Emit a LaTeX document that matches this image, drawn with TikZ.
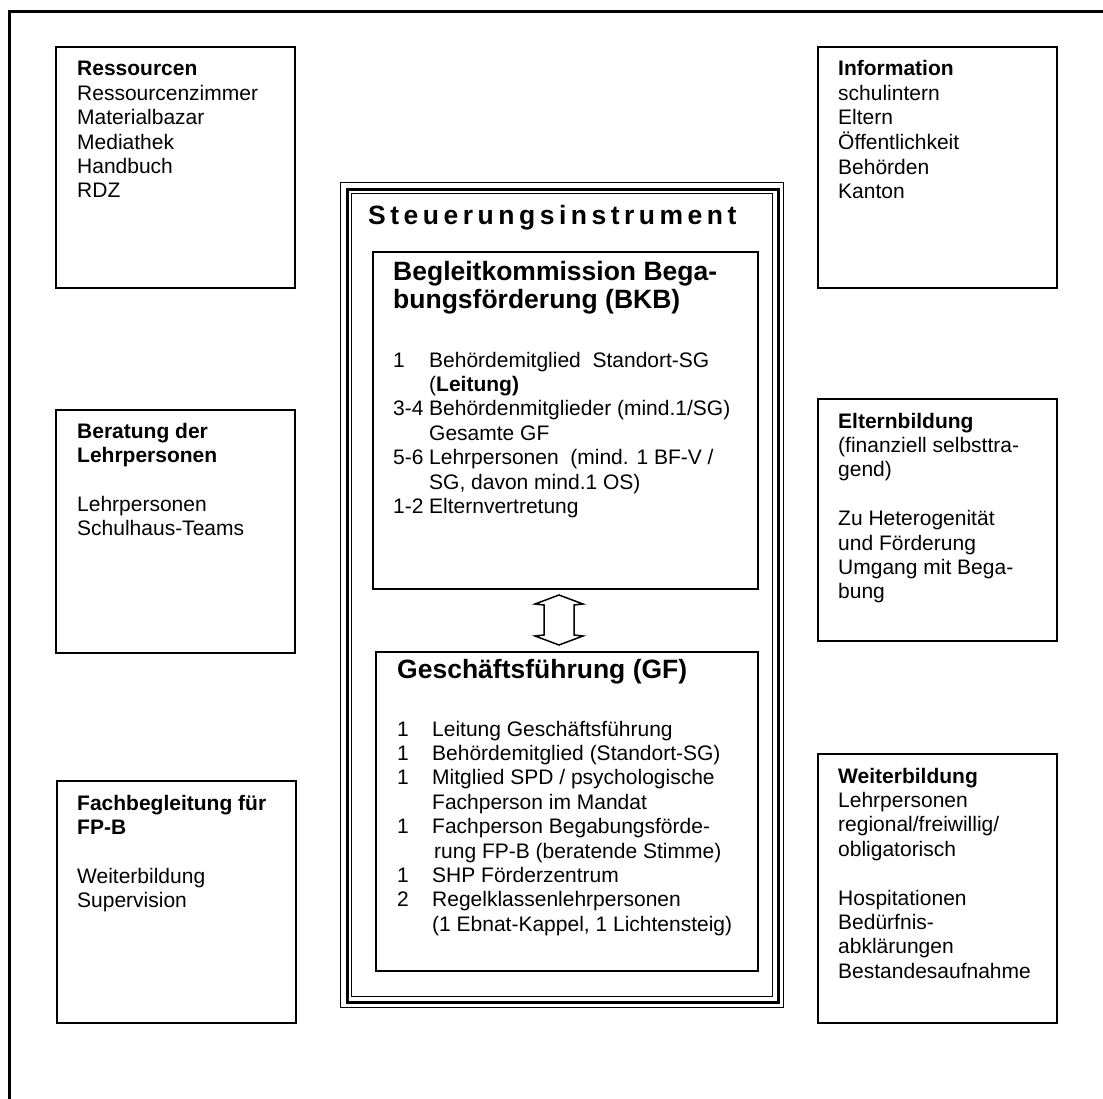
\documentclass[tikz,border=0pt]{standalone}
\usepackage{fontspec}
\setmainfont{Liberation Sans}
\newfontfamily\spacedfont[LetterSpace=17]{Liberation Sans}
\usepackage{array}
\newcommand{\txtblk}[1]{\begin{tabular}[t]{@{}l@{}}#1\end{tabular}}
\newcommand{\lstblk}[2]{\begin{tabular}[t]{@{}p{#1}@{}l@{}}#2\end{tabular}}
\tikzset{
  box/.style={draw, line width=1.6pt, inner sep=0pt, anchor=north west, rectangle},
  txt/.style={anchor=base west, inner sep=0pt, font=\fontsize{21}{24.4}\selectfont},
  head/.style={anchor=base west, inner sep=0pt, font=\bfseries\fontsize{26.5}{27.2}\selectfont},
  frameline/.style={line width=3pt, line cap=butt},
}
\begin{document}
\begin{tikzpicture}[x=1pt, y=-1pt]
\useasboundingbox (0,0) rectangle (1103,1099);
\fill[white] (0,0) rectangle (1103,1099);
% outer page frame (only top and left edges visible)
\draw[frameline] (9,1099) -- (9,12) -- (1103,12);

% side boxes
\node[box, minimum width=239pt, minimum height=241pt] (res) at (55,46) {};
\node[box, minimum width=239pt, minimum height=241pt] (inf) at (817,46) {};
\node[box, minimum width=239pt, minimum height=243pt] (ber) at (55,409) {};
\node[box, minimum width=239pt, minimum height=242pt] (elt) at (817,398) {};
\node[box, minimum width=239pt, minimum height=242pt] (fach) at (56,780) {};
\node[box, minimum width=239pt, minimum height=269pt] (weit) at (817,753) {};

\node[txt] (restxt) at (77,76) {\txtblk{\textbf{Ressourcen}\\ Ressourcenzimmer\\ Materialbazar\\ Mediathek\\ Handbuch\\ RDZ}};
\node[txt] (inftxt) at (838,76) {\txtblk{\textbf{Information}\\ schulintern\\ Eltern\\ Öffentlichkeit\\ Behörden\\ Kanton}};
\node[txt] (bertxt) at (77,438) {\txtblk{\textbf{Beratung der}\\ \textbf{Lehrpersonen}\\ ~\\ Lehrpersonen\\ Schulhaus-Teams}};
\node[txt] (elttxt) at (838,428) {\txtblk{\textbf{Elternbildung}\\ (finanziell selbsttra-\\ gend)\\ ~\\ Zu Heterogenität\\ und Förderung\\ Umgang mit Bega-\\ bung}};
\node[txt] (fachtxt) at (77,810) {\txtblk{\textbf{Fachbegleitung für}\\ \textbf{FP-B}\\ ~\\ Weiterbildung\\ Supervision}};
\node[txt] (weittxt) at (838,783) {\txtblk{\textbf{Weiterbildung}\\ Lehrpersonen\\ regional/freiwillig/\\ obligatorisch\\ ~\\ Hospitationen\\ Bedürfnis-\\ abklärungen\\ Bestandesaufnahme}};

% central triple frame
\node[draw, line width=1.3pt, inner sep=0pt, anchor=north west, minimum width=443pt, minimum height=825pt] (steu) at (340,182) {};
\node[draw, line width=2.6pt, inner sep=0pt, anchor=north west, minimum width=431pt, minimum height=813pt] (steu2) at (346,188) {};
\node[draw, line width=1.1pt, inner sep=0pt, anchor=north west, minimum width=421pt, minimum height=803pt] (steu3) at (351,193) {};

\node[anchor=base west, inner sep=0pt, font=\spacedfont\bfseries\fontsize{26.5}{30}\selectfont] (steutxt) at (368,225) {Steuerungsinstrument};

% BKB
\node[box, minimum width=385pt, minimum height=337pt] (bkb) at (372,251) {};
\node[head] (bkbhead) at (393,281) {\txtblk{Begleitkommission Bega-\\ bungsförderung (BKB)}};
\node[txt] (bkblist) at (393,367) {\lstblk{36pt}{1 & Behördemitglied\ \ Standort-SG\\ & (\textbf{Leitung)}\\ 3-4 & Behördenmitglieder (mind.1/SG)\\ & Gesamte GF\\ 5-6 & Lehrpersonen\ \ (mind. 1 BF-V /\\ & SG, davon mind.1 OS)\\ 1-2 & Elternvertretung}};

% GF
\node[box, minimum width=382pt, minimum height=319pt] (gf) at (375,651) {};
\node[head] (gfhead) at (397,678) {Geschäftsführung (GF)};
\node[txt] (gflist) at (397,736) {\lstblk{35pt}{1 & Leitung Geschäftsführung\\ 1 & Behördemitglied (Standort-SG)\\ 1 & Mitglied SPD / psychologische\\ & Fachperson im Mandat\\ 1 & Fachperson Begabungsförde-\\ & \hspace{2pt}rung FP-B (beratende Stimme)\\ 1 & SHP Förderzentrum\\ 2 & Regelklassenlehrpersonen\\ & (1 Ebnat-Kappel, 1 Lichtensteig)}};

% double arrow between BKB and GF
\coordinate (ac) at (559,620);
\draw[line width=1.5pt, line join=miter, shift={(ac)}]
  (0,-25) -- (24,-16) -- (15,-15) -- (15,15) -- (24,16) -- (0,25)
  -- (-24,16) -- (-15,15) -- (-15,-15) -- (-24,-16) -- cycle;
\end{tikzpicture}
\end{document}
